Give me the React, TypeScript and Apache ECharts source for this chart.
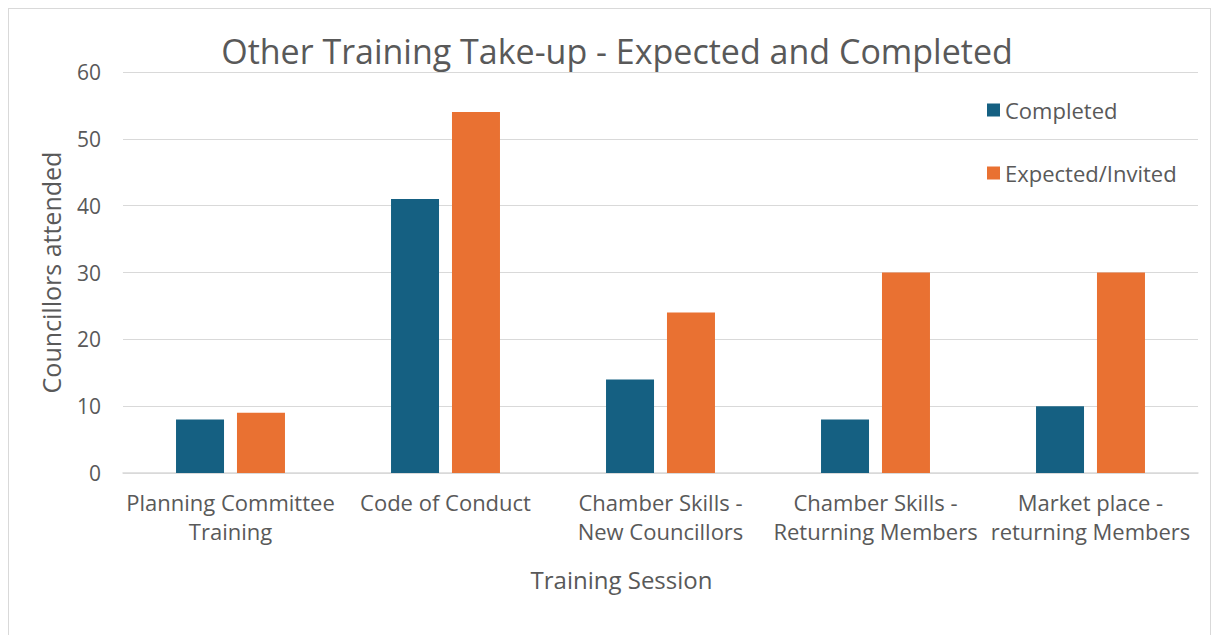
import React, { useEffect, useRef } from "react";
import * as echarts from "echarts";

const categories = [
  "Planning Committee\nTraining",
  "Code of Conduct",
  "Chamber Skills -\nNew Councillors",
  "Chamber Skills -\nReturning Members",
  "Market place -\nreturning Members",
];
const completed = [8, 41, 14, 8, 10];
const expected = [9, 54, 24, 30, 30];
const yTicks = { min: 0, max: 60, interval: 10 };

const FONT = "'Open Sans', 'Noto Sans', sans-serif";
const TXT = "#595959";

export default function App() {
  const ref = useRef<HTMLDivElement>(null);
  useEffect(() => {
    if (!ref.current) return;
    const chart = echarts.init(ref.current, undefined, { renderer: "svg" });
    chart.setOption({
      animation: false,
      backgroundColor: "#ffffff",
      textStyle: { fontFamily: FONT },
      title: {
        text: "Other Training Take-up - Expected and Completed",
        left: 603,
        textAlign: "center",
        top: 20,
        textStyle: { fontFamily: FONT, fontSize: 34, fontWeight: "normal", color: TXT },
      },
      legend: {
        orient: "vertical",
        left: 978,
        top: 90,
        padding: 0,
        itemWidth: 13,
        itemHeight: 13,
        itemGap: 41,
        icon: "rect",
        textStyle: { fontFamily: FONT, fontSize: 22, color: TXT },
        data: ["Completed", "Expected/Invited"],
      },
      grid: { left: 114, right: 12, top: 63, bottom: 166, containLabel: false },
      xAxis: {
        type: "category",
        data: categories,
        name: "Training Session",
        nameLocation: "middle",
        nameGap: 94,
        nameTextStyle: { fontFamily: FONT, fontSize: 24, color: TXT, padding: [0, 78, 0, 0] },
        axisLine: { lineStyle: { color: "#d9d9d9", width: 1.5 } },
        axisTick: { show: false },
        axisLabel: {
          interval: 0,
          fontFamily: FONT,
          fontSize: 22,
          color: TXT,
          lineHeight: 29,
          margin: 14,
        },
      },
      yAxis: {
        type: "value",
        min: yTicks.min,
        max: yTicks.max,
        interval: yTicks.interval,
        name: "Councillors attended",
        nameLocation: "middle",
        nameGap: 60,
        nameTextStyle: { fontFamily: FONT, fontSize: 25, color: TXT },
        axisLine: { show: false },
        axisTick: { show: false },
        axisLabel: { fontFamily: FONT, fontSize: 21, color: TXT, margin: 22 },
        splitLine: { lineStyle: { color: "#d9d9d9", width: 1 } },
      },
      series: [
        {
          name: "Completed",
          type: "bar",
          data: completed,
          barWidth: 48,
          barGap: "27%",
          itemStyle: { color: "#156082" },
        },
        {
          name: "Expected/Invited",
          type: "bar",
          data: expected,
          barWidth: 48,
          barGap: "27%",
          itemStyle: { color: "#E97132" },
        },
      ],
    });
    return () => chart.dispose();
  }, []);
  return (
    <div style={{ width: 1201, height: 630, border: "1px solid #d9d9d9", overflow: "hidden" }}>
      <div ref={ref} style={{ width: 1201, height: 630 }} />
    </div>
  );
}
